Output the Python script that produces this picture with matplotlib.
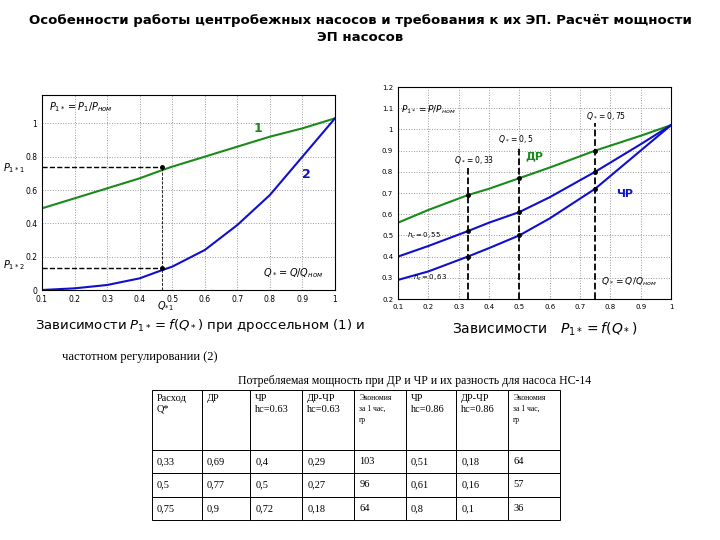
import numpy as np
import matplotlib.pyplot as plt

W, H = 720, 540

# left chart: throttling (1) vs frequency (2)
q_left = [0.1, 0.2, 0.3, 0.4, 0.47, 0.5, 0.6, 0.7, 0.8, 0.9, 1.0]
p_thr = [0.49, 0.55, 0.61, 0.67, 0.72, 0.74, 0.80, 0.86, 0.92, 0.97, 1.03]
p_freq = [0.0, 0.01, 0.03, 0.07, 0.12, 0.14, 0.24, 0.39, 0.57, 0.80, 1.03]
q_mark = 0.47
p_mark1, p_mark2 = 0.74, 0.13

# right chart
q_right = [0.1, 0.2, 0.33, 0.4, 0.5, 0.6, 0.75, 0.9, 1.0]
p_dr = [0.56, 0.62, 0.69, 0.72, 0.77, 0.82, 0.90, 0.97, 1.02]
p_hc055 = [0.40, 0.45, 0.52, 0.56, 0.61, 0.68, 0.80, 0.93, 1.02]
p_hc063 = [0.29, 0.33, 0.40, 0.44, 0.50, 0.58, 0.72, 0.90, 1.02]
q_marks = [0.33, 0.5, 0.75]

# table
col_labels = ["Расход\nQ*", "ДР", "ЧР\nhc=0.63", "ДР-ЧР\nhc=0.63", "Экономия\nза 1 час,\nгр",
              "ЧР\nhc=0.86", "ДР-ЧР\nhc=0.86", "Экономия\nза 1 час,\nгр"]
rows = [["0,33", "0,69", "0,4", "0,29", "103", "0,51", "0,18", "64"],
        ["0,5", "0,77", "0,5", "0,27", "96", "0,61", "0,16", "57"],
        ["0,75", "0,9", "0,72", "0,18", "64", "0,8", "0,1", "36"]]

fig = plt.figure(figsize=(7.2, 5.4), dpi=100)

def box(x0, y0, x1, y1):
    return [x0 / W, 1 - y1 / H, (x1 - x0) / W, (y1 - y0) / H]

fig.text(0.5, 1 - 29 / H, "Особенности работы центробежных насосов и требования к их ЭП. Расчёт мощности\nЭП насосов",
         ha="center", va="center", fontsize=9.5, fontweight="bold", linespacing=1.45)

grid_kw = dict(color="#999999", linestyle=":", linewidth=0.7)

# ---- left ----
ax = fig.add_axes(box(42, 95, 335, 290))
ax.plot(q_left, p_thr, color="#1a8a1a", lw=1.5)
ax.plot(q_left, p_freq, color="#1010cc", lw=1.5)
ax.plot([0.1, q_mark], [p_mark1] * 2, "k--", lw=1)
ax.plot([0.1, q_mark], [p_mark2] * 2, "k--", lw=1)
ax.plot([q_mark] * 2, [0, p_mark1], color="k", ls="--", lw=0.6)
ax.plot([q_mark] * 2, [p_mark1, p_mark2], "k.", ms=5)
ax.set_xlim(0.1, 1.0)
ax.set_ylim(0, 1.17)
ax.set_xticks(np.arange(0.1, 1.01, 0.1))
ax.set_xticklabels(["0.1", "0.2", "0.3", "0.4", "0.5", "0.6", "0.7", "0.8", "0.9", "1"])
ax.set_yticks([0, 0.2, 0.4, 0.6, 0.8, 1.0])
ax.set_yticklabels(["0", "0.2", "0.4", "0.6", "0.8", "1"])
ax.tick_params(labelsize=5.5, length=0)
ax.grid(True, **grid_kw)
ax.text(0.75, 0.95, "1", color="#1a8a1a", fontsize=9, fontweight="bold")
ax.text(0.9, 0.67, "2", color="#1010cc", fontsize=9, fontweight="bold")
ax.text(0.12, 1.08, r"$P_{1*}=P_1/P_{ном}$", fontsize=7)
ax.text(0.78, 0.08, r"$Q_*=Q/Q_{ном}$", fontsize=7)
ytr = ax.get_yaxis_transform()
ax.text(-0.06, p_mark1 - 0.01, r"$P_{1*1}$", fontsize=7, ha="right", va="center", transform=ytr)
ax.text(-0.06, p_mark2 + 0.02, r"$P_{1*2}$", fontsize=7, ha="right", va="center", transform=ytr)
ax.text(q_mark + 0.01, -0.055, r"$Q_{*1}$", fontsize=7, ha="center", va="top")

fig.text(35 / W, 1 - 326 / H, r"Зависимости $P_{1*}=f(Q_*)$ при дроссельном (1) и", fontsize=9.5, va="center")
fig.text(62 / W, 1 - 357 / H, "частотном регулировании (2)", fontsize=9, va="center", family="Liberation Serif")

# ---- right ----
ax2 = fig.add_axes(box(398, 87, 671, 299))
ax2.plot(q_right, p_dr, color="#1a8a1a", lw=1.5)
ax2.plot(q_right, p_hc055, color="#1010cc", lw=1.5)
ax2.plot(q_right, p_hc063, color="#1010cc", lw=1.5)
tops = [0.82, 0.92, 1.03]
for q, t in zip(q_marks, tops):
    ax2.plot([q, q], [0.2, t], "k--", lw=1.3)
    for qs, ps in ((q_right, p_dr), (q_right, p_hc055), (q_right, p_hc063)):
        ax2.plot(q, ps[qs.index(q)], "k.", ms=5)
ax2.set_xlim(0.1, 1.0)
ax2.set_ylim(0.2, 1.2)
ax2.set_xticks(np.arange(0.1, 1.01, 0.1))
ax2.set_xticklabels(["0.1", "0.2", "0.3", "0.4", "0.5", "0.6", "0.7", "0.8", "0.9", "1"])
ax2.set_yticks(np.arange(0.2, 1.21, 0.1))
ax2.set_yticklabels(["0.2", "0.3", "0.4", "0.5", "0.6", "0.7", "0.8", "0.9", "1", "1.1", "1.2"])
ax2.tick_params(labelsize=5, length=0)
ax2.grid(True, **grid_kw)
ax2.text(0.52, 0.86, "ДР", color="#1a8a1a", fontsize=8, fontweight="bold")
ax2.text(0.82, 0.68, "ЧР", color="#1010cc", fontsize=8, fontweight="bold")
ax2.text(0.285, 0.84, r"$Q_*=0,33$", fontsize=5.5)
ax2.text(0.43, 0.94, r"$Q_*=0,5$", fontsize=5.5)
ax2.text(0.72, 1.05, r"$Q_*=0,75$", fontsize=5.5)
ax2.text(0.13, 0.49, r"$h_c=0,55$", fontsize=5)
ax2.text(0.15, 0.29, r"$h_c=0,63$", fontsize=5)
ax2.text(0.11, 1.08, r"$P_{1*}=P/P_{ном}$", fontsize=6.5)
ax2.text(0.77, 0.27, r"$Q_*=Q/Q_{ном}$", fontsize=6.5)
fig.text(452 / W, 1 - 329 / H, r"Зависимости   $P_{1*}=f(Q_*)$", fontsize=10, va="center")

# ---- table ----
fig.text(415 / W, 1 - 381 / H, "Потребляемая мощность при ДР и ЧР и их разность для насоса НС-14",
         fontsize=8.5, ha="center", va="center", family="Liberation Serif")
axt = fig.add_axes(box(152, 390, 560, 520))
axt.axis("off")
col_w = [50, 48, 52, 52, 52, 50, 52, 52]
# pad header labels so they sit near the top of the tall header row
header = [lab + "\n" * (4 - lab.count("\n")) for lab in col_labels]
tab = axt.table(cellText=[header] + rows, colWidths=[w / sum(col_w) for w in col_w],
                cellLoc="left", loc="upper left", bbox=[0, 0, 1, 1])
tab.auto_set_font_size(False)
for (r, c), cell in tab.get_celld().items():
    cell.set_linewidth(0.7)
    txt = cell.get_text()
    txt.set_fontfamily("Liberation Serif")
    if r == 0:
        txt.set_fontsize(5.5 if c in (4, 7) else 7.5)
        txt.set_linespacing(1.5 if c in (4, 7) else 1.25)
        cell.set_height(0.46)
    else:
        txt.set_fontsize(7.5)
        cell.set_height(0.18)

fig.savefig("out.png", dpi=100)
